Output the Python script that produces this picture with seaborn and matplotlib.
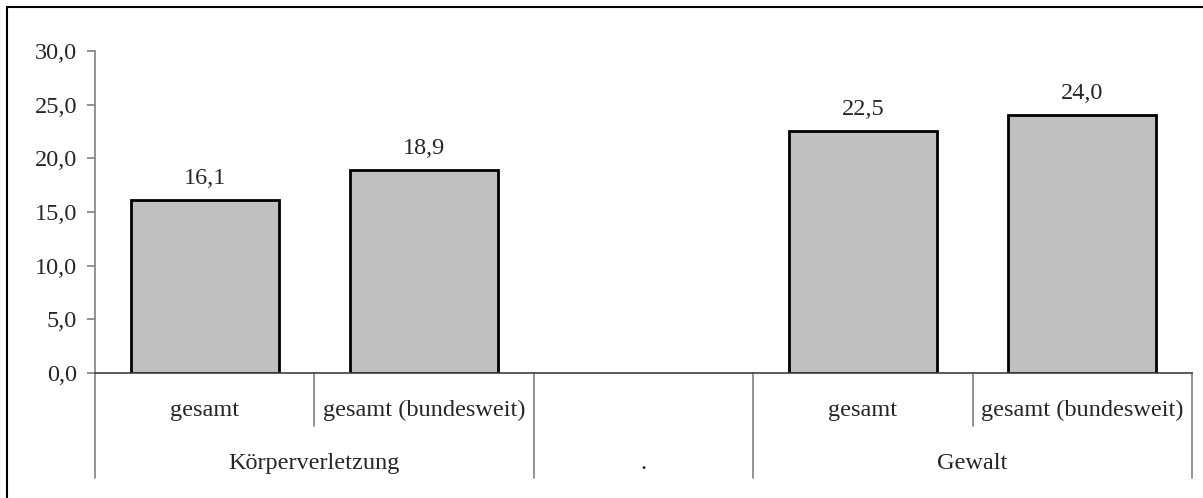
import numpy as np
import matplotlib.pyplot as plt
from matplotlib.patches import Rectangle
import seaborn as sns
import pandas as pd

# data
slots = [0, 1, 2, 3, 4]
sub_labels = ["gesamt", "gesamt (bundesweit)", "", "gesamt", "gesamt (bundesweit)"]
group_labels = ["Körperverletzung", ".", "Gewalt"]
group_spans = [(0, 1), (2, 2), (3, 4)]
values = [16.1, 18.9, np.nan, 22.5, 24.0]
yticks = [0, 5, 10, 15, 20, 25, 30]

FS = 17.5

sns.set_theme(style="white")
plt.rcParams["font.family"] = ["Liberation Serif", "DejaVu Serif"]

df = pd.DataFrame({"slot": slots, "wert": values})

fig = plt.figure(figsize=(12.03, 4.98), dpi=100)
ax = fig.add_axes([95 / 1203, 125 / 498, 1097 / 1203, 322 / 498])

sns.barplot(data=df, x="slot", y="wert", order=slots, color="#c0c0c0",
            saturation=1, width=0.675, edgecolor="black", linewidth=2, ax=ax)

# value labels with decimal comma
for cont in ax.containers:
    ax.bar_label(cont, labels=[f"{v:.1f}".replace(".", ",") if not np.isnan(v) else ""
                               for v in cont.datavalues],
                 padding=8, fontsize=FS)

ax.set_xlim(-0.5, len(slots) - 0.5)
ax.set_ylim(0, 30)
ax.set_yticks(yticks)
ax.set_yticklabels([f"{t:.1f}".replace(".", ",") for t in yticks], fontsize=FS)
ax.set_xticks([])
ax.set_xlabel("")
ax.set_ylabel("")
ax.tick_params(axis="y", left=True, length=6, width=1.2, color="#808080", pad=7)
for side in ["top", "right"]:
    ax.spines[side].set_visible(False)
ax.spines["left"].set_color("#808080")
ax.spines["left"].set_linewidth(1.2)
ax.spines["bottom"].set_color("#404040")
ax.spines["bottom"].set_linewidth(1.2)

# multi-level category axis
trans = ax.get_xaxis_transform()
px = 1 / 322  # one pixel in axes fraction
group_edges = {-0.5, 1.5, 2.5, 4.5}
for i in range(len(slots) + 1):
    xe = i - 0.5
    bottom = -105 * px if xe in group_edges else -53 * px
    ax.plot([xe, xe], [0, bottom], transform=trans, color="#808080",
            lw=1.2, clip_on=False)
for s, lab in zip(slots, sub_labels):
    ax.text(s, -37 * px, lab, transform=trans, ha="center", va="center", fontsize=FS)
for (a, b), lab in zip(group_spans, group_labels):
    ax.text((a + b) / 2, -90 * px, lab, transform=trans, ha="center", va="center",
            fontsize=FS)

# outer chart frame (clipped at right and bottom like the reference)
fig.patches.append(Rectangle((7 / 1203, -0.05), 1.2, 1 - 7 / 498 + 0.05,
                             transform=fig.transFigure, fill=False,
                             edgecolor="black", linewidth=1.5))

fig.savefig("out.png", dpi=100)
